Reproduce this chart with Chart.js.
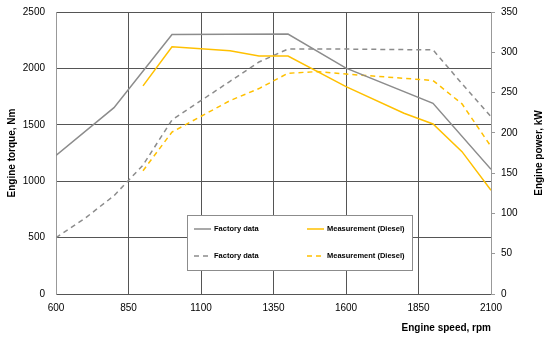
<!DOCTYPE html>
<html>
<head>
<meta charset="utf-8">
<script src="https://cdn.jsdelivr.net/npm/chart.js@4.4.1/dist/chart.umd.min.js"></script>
<style>
  html, body { margin: 0; padding: 0; background: #fff; }
  #wrap { width: 550px; height: 341px; }
</style>
</head>
<body>
<div id="wrap"><canvas id="myChart" width="550" height="341"></canvas></div>
<script>
// x tick labels (rpm)
var rpmTicks = [600, 850, 1100, 1350, 1600, 1850, 2100];

// torque, Nm (left axis)
var factoryTorqueRpm = [600, 800, 1000, 1400, 1600, 1900, 2100];
var factoryTorque = [1228, 1652, 2300, 2305, 2002, 1690, 1105];
var measTorqueRpm = [900, 1000, 1200, 1300, 1400, 1600, 1800, 1900, 2000, 2100];
var measTorque = [1845, 2192, 2157, 2110, 2110, 1838, 1602, 1507, 1262, 920];

// power, kW (right axis)
var factoryPowerRpm = [600, 700, 800, 900, 1000, 1200, 1300, 1400, 1600, 1900, 2000, 2100];
var factoryPower = [70, 94, 122, 160, 216, 264, 288, 304, 304, 303, 261, 220];
var measPowerRpm = [900, 1000, 1200, 1300, 1400, 1500, 1600, 1900, 2000, 2100];
var measPower = [153, 201, 240, 255, 274, 276, 273, 265, 236, 183];

var legendLabels = ['Factory data', 'Measurement (Diesel)'];

const GRAY = '#8c8c8c';
const GOLD = '#ffc000';
const FONT = "'Liberation Sans', Arial, sans-serif";

function toXY(xs, ys) {
  return xs.map((x, i) => ({ x: x, y: ys[i] }));
}
const plain = (v) => String(v);

// 범례 + 오른쪽 축 제목 (아래에서 위로 읽힘)
const extraDraw = {
  id: 'extraDraw',
  afterDraw(chart) {
    const ctx = chart.ctx;
    const ca = chart.chartArea;
    ctx.save();
    // legend box
    const bx = 187, by = 215, bw = 225, bh = 55;
    ctx.fillStyle = '#fff';
    ctx.fillRect(bx, by, bw, bh);
    ctx.strokeStyle = '#8c8c8c';
    ctx.lineWidth = 1;
    ctx.strokeRect(bx + 0.5, by + 0.5, bw, bh);
    const items = [
      { c: GRAY, d: [], t: legendLabels[0], x: 194, y: 229 },
      { c: GOLD, d: [], t: legendLabels[1], x: 307, y: 229 },
      { c: GRAY, d: [5, 4], t: legendLabels[0], x: 194, y: 256 },
      { c: GOLD, d: [5, 4], t: legendLabels[1], x: 307, y: 256 }
    ];
    ctx.font = 'bold 7.5px ' + FONT;
    ctx.textBaseline = 'middle';
    items.forEach(it => {
      ctx.strokeStyle = it.c;
      ctx.lineWidth = 1.5;
      ctx.setLineDash(it.d);
      ctx.beginPath();
      ctx.moveTo(it.x, it.y);
      ctx.lineTo(it.x + 17, it.y);
      ctx.stroke();
      ctx.setLineDash([]);
      ctx.fillStyle = '#000';
      ctx.fillText(it.t, it.x + 20, it.y);
    });
    // right axis title
    ctx.translate(539, (ca.top + ca.bottom) / 2);
    ctx.rotate(-Math.PI / 2);
    ctx.textAlign = 'center';
    ctx.font = 'bold 10px ' + FONT;
    ctx.fillStyle = '#000';
    ctx.fillText('Engine power, kW', 0, 0);
    ctx.restore();
  }
};

// y 축 tick padding 이 위/아래 여백에 더해지는 것 막기
function fixVertical(w) {
  return (s) => { s.width = w; s.paddingTop = 6; s.paddingBottom = 6; };
}

const chartConfig = {
  type: 'line',
  data: {
    datasets: [
      {
        label: 'Factory data',
        data: toXY(factoryTorqueRpm, factoryTorque),
        borderColor: GRAY, borderWidth: 1.5, pointRadius: 0, yAxisID: 'y'
      },
      {
        label: 'Measurement (Diesel)',
        data: toXY(measTorqueRpm, measTorque),
        borderColor: GOLD, borderWidth: 1.5, pointRadius: 0, yAxisID: 'y'
      },
      {
        label: 'Factory data',
        data: toXY(factoryPowerRpm, factoryPower),
        borderColor: GRAY, borderWidth: 1.5, borderDash: [5, 4], pointRadius: 0, yAxisID: 'y1'
      },
      {
        label: 'Measurement (Diesel)',
        data: toXY(measPowerRpm, measPower),
        borderColor: GOLD, borderWidth: 1.5, borderDash: [5, 4], pointRadius: 0, yAxisID: 'y1'
      }
    ]
  },
  options: {
    responsive: false,
    animation: false,
    layout: { padding: { top: 12, left: 0, right: 0, bottom: 0 } },
    plugins: {
      legend: { display: false },
      tooltip: { enabled: false }
    },
    scales: {
      x: {
        type: 'linear',
        min: 600, max: 2100,
        afterBuildTicks: (s) => { s.ticks = rpmTicks.map(v => ({ value: v })); },
        afterFit: (s) => { s.height = 47; },
        grid: { color: '#555', lineWidth: 1, drawTicks: false },
        border: { color: '#555' },
        ticks: { padding: 8, color: '#000', callback: plain, font: { family: FONT, size: 10 } },
        title: {
          display: true, text: 'Engine speed, rpm', align: 'end', color: '#000',
          font: { family: FONT, size: 10, weight: 'bold' },
          padding: { top: 0, bottom: 7 }
        }
      },
      y: {
        position: 'left',
        min: 0, max: 2500,
        afterFit: fixVertical(56),
        grid: { color: '#555', lineWidth: 1, drawTicks: false },
        border: { color: '#999' },
        ticks: { stepSize: 500, padding: 11, color: '#000', callback: plain, font: { family: FONT, size: 10 } },
        title: {
          display: true, text: 'Engine torque, Nm', color: '#000',
          font: { family: FONT, size: 10, weight: 'bold' },
          padding: { top: 6, bottom: 0 }
        }
      },
      y1: {
        position: 'right',
        min: 0, max: 350,
        afterFit: fixVertical(59),
        grid: { drawOnChartArea: false, color: '#999', tickLength: 4 },
        border: { color: '#999' },
        ticks: { stepSize: 50, padding: 6, color: '#000', callback: plain, font: { family: FONT, size: 10 } }
      }
    }
  },
  plugins: [extraDraw]
};

var myChart = new Chart(document.querySelector('#myChart'), chartConfig);
</script>
</body>
</html>
